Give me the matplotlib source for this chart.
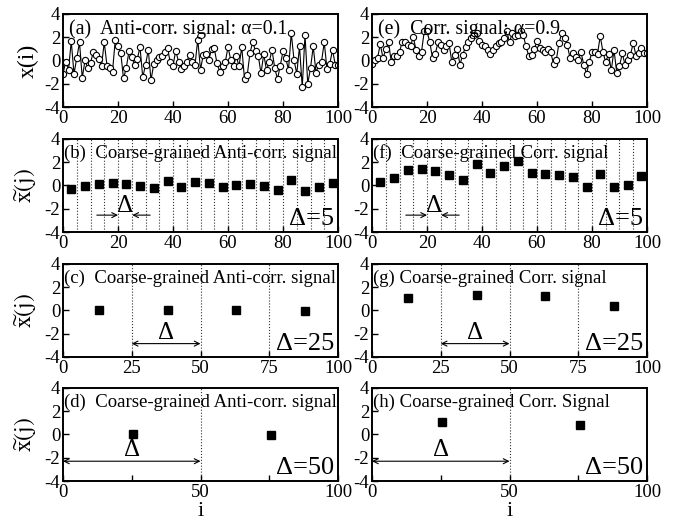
import numpy as np
import matplotlib
matplotlib.use('Agg')
import matplotlib.pyplot as plt

plt.rcParams['font.family'] = ['Liberation Serif', 'DejaVu Serif']
plt.rcParams['mathtext.fontset'] = 'stix'

# raw signals, i = 0..100
i_vals = np.arange(0, 101)
anti_signal = [
    -1.15, -0.1, -0.8, 1.65, -1.15, 0.2, 1.55, -1.5, 0.0, -0.65,
    -0.2, 0.7, 0.5, 0.1, -0.45, 1.55, -0.45, -0.65, -0.95, 1.75,
    1.2, 0.65, -1.55, -0.65, 0.8, 0.3, -0.35, 0.1, 1.15, -1.45,
    -0.4, 0.9, -1.7, -0.3, 0.0, 0.3, 0.4, 0.7, 1.05, -0.15,
    -0.45, 0.85, -0.1, -0.75, -0.45, -0.15, 0.5, -0.1, -0.4, 1.8,
    -0.8, 0.5, 0.55, 0.05, 0.95, 1.05, -0.25, -0.95, -0.5, -0.15,
    1.15, 0.05, -0.5, 0.4, -0.5, 1.15, -1.6, -1.25, 0.65, 1.6,
    0.8, 0.4, -1.1, 0.55, -0.85, -0.1, 0.9, -0.65, -1.6, -0.45,
    0.8, 0.2, -0.8, 2.35, 0.05, -1.15, 1.2, -2.3, 2.2, -2.0,
    -0.65, 1.2, -1.05, -0.35, -0.1, 1.55, -0.75, -0.3, 0.9, -0.35,
    -0.4,
]
corr_signal = [
    -0.3, 0.05, 0.2, 1.4, 0.2, 0.95, 1.55, -0.1, 0.35, 0.4,
    0.75, 1.6, 1.55, 1.35, 1.2, 2.05, 0.9, 0.4, 0.75, 2.5,
    2.5, 1.6, 0.2, 0.55, 1.55, 1.35, 0.9, 1.2, 1.5, -0.1,
    0.5, 0.95, -0.35, 0.5, 1.15, 1.55, 1.9, 2.35, 2.35, 1.65,
    1.35, 1.2, 0.9, 0.55, 0.9, 1.2, 1.5, 1.55, 1.9, 2.55,
    1.55, 2.35, 2.1, 2.2, 2.5, 2.2, 1.2, 0.4, 0.5, 0.95,
    1.7, 1.05, 0.9, 0.7, 0.95, 0.7, -0.3, 0.0, 1.5, 2.35,
    1.9, 1.35, 0.2, 0.6, 0.3, 0.05, 0.7, -0.35, -1.15, -0.15,
    0.75, 0.7, 0.55, 2.1, 0.7, -0.15, 0.55, -0.85, 0.9, -1.05,
    -0.5, 0.6, -0.35, 0.05, 0.5, 1.5, 0.4, 0.6, 1.05, 0.6,
    0.6,
]

# coarse-grained signals (box centres and box means)
j5 = [3, 8, 13, 18, 23, 28, 33, 38, 43, 48, 53, 58, 63, 68, 73, 78, 83, 88, 93, 98]
anti_cg5 = [-0.3, -0.05, 0.15, 0.2, 0.12, -0.05, -0.25, 0.4, -0.15, 0.3,
            0.25, -0.17, 0.08, 0.12, -0.03, -0.35, 0.5, -0.45, -0.17, 0.25]
corr_cg5 = [0.27, 0.6, 1.3, 1.38, 1.27, 0.9, 0.5, 1.87, 1.07, 1.67,
            2.13, 1.07, 1.0, 0.9, 0.7, -0.15, 1.0, -0.15, 0.05, 0.8]
j25 = [13, 38, 63, 88]
anti_cg25 = [0.03, 0.05, 0.05, -0.05]
corr_cg25 = [1.03, 1.3, 1.2, 0.35]
j50 = [25.5, 75.5]
anti_cg50 = [0.0, -0.05]
corr_cg50 = [1.1, 0.8]

fig = plt.figure(figsize=(6.76, 5.23), dpi=100)
lefts = [0.0932, 0.5503]
bottoms = [0.7954, 0.5564, 0.3174, 0.0803]
w, h = 0.4068, 0.178

FS = 13.5


def setup(ax, xticks, minor=None):
    ax.set_xlim(0, 100)
    ax.set_ylim(-4, 4)
    ax.set_yticks([-4, -2, 0, 2, 4])
    ax.set_yticklabels(['-4', '-2', '0', '2', '4'])
    ax.set_xticks(xticks)
    if minor is not None:
        ax.set_xticks(minor, minor=True)
    ax.tick_params(direction='in', length=4, width=1, labelsize=FS, pad=2,
                   top=False, right=False)
    ax.tick_params(which='minor', direction='in', length=4, width=1)
    for s in ax.spines.values():
        s.set_linewidth(1.4)


def vlines(ax, xs):
    for x in xs:
        ax.axvline(x, color='0.2', ls=':', lw=0.8, zorder=1)


def delta_label(ax, txt):
    ax.text(0.985, 0.02, txt, transform=ax.transAxes, ha='right',
            va='bottom', fontsize=19)


def title(ax, txt, x=0.005, size=FS):
    ax.text(x, 0.94, txt, transform=ax.transAxes, ha='left',
            va='top', fontsize=size)


def arrow(ax, x0, x1, y, style):
    ax.annotate('', xy=(x1, y), xytext=(x0, y),
                arrowprops=dict(arrowstyle=style, lw=0.8, color='black',
                                shrinkA=0, shrinkB=0,
                                mutation_scale=9))


sq = dict(ls='none', marker='s', ms=5.5, color='black', zorder=3)
ylab_tilde = r'$\widetilde{\mathrm{x}}(\mathrm{j})$'

columns = [
    ('(a)  Anti-corr. signal: α=0.1', anti_signal,
     ['(b)  Coarse-grained Anti-corr. signal',
      '(c)  Coarse-grained Anti-corr. signal',
      '(d)  Coarse-grained Anti-corr. signal'],
     anti_cg5, anti_cg25, anti_cg50),
    ('(e)  Corr. signal: α=0.9', corr_signal,
     ['(f)  Coarse-grained Corr. signal',
      '(g) Coarse-grained Corr. signal',
      '(h) Coarse-grained Corr. Signal'],
     corr_cg5, corr_cg25, corr_cg50),
]

for c, (t0, sig, titles, cg5, cg25, cg50) in enumerate(columns):
    x0 = lefts[c]
    # raw signal
    ax = fig.add_axes([x0, bottoms[0], w, h])
    ax.plot(i_vals, sig, color='black', lw=0.8, marker='o', ms=4.5,
            mfc='white', mec='black', mew=0.8)
    setup(ax, [0, 20, 40, 60, 80, 100])
    title(ax, t0, x=0.02, size=14.3)
    if c == 0:
        ax.set_ylabel('x(i)', fontsize=17, labelpad=4)

    # box size 5
    ax = fig.add_axes([x0, bottoms[1], w, h])
    vlines(ax, range(5, 100, 5))
    ax.plot(j5, cg5, **sq)
    setup(ax, [0, 20, 40, 60, 80, 100])
    title(ax, titles[0])
    delta_label(ax, 'Δ=5')
    arrow(ax, 12.3, 20.0, -2.55, '->')
    arrow(ax, 31.7, 25.2, -2.55, '->')
    ax.text(22.6, -1.75, 'Δ', ha='center', va='center', fontsize=18)
    if c == 0:
        ax.set_ylabel(ylab_tilde, fontsize=17, labelpad=4)

    # box size 25
    ax = fig.add_axes([x0, bottoms[2], w, h])
    vlines(ax, [25, 50, 75])
    ax.plot(j25, cg25, **sq)
    setup(ax, [0, 25, 50, 75, 100])
    title(ax, titles[1])
    delta_label(ax, 'Δ=25')
    arrow(ax, 25, 50, -2.85, '<->')
    ax.text(37.5, -1.95, 'Δ', ha='center', va='center', fontsize=18)
    if c == 0:
        ax.set_ylabel(ylab_tilde, fontsize=17, labelpad=4)

    # box size 50
    ax = fig.add_axes([x0, bottoms[3], w, h])
    vlines(ax, [50])
    ax.plot(j50, cg50, **sq)
    setup(ax, [0, 50, 100], minor=[25, 75])
    title(ax, titles[2])
    delta_label(ax, 'Δ=50')
    arrow(ax, 0, 50, -2.3, '<->')
    ax.text(25, -1.35, 'Δ', ha='center', va='center', fontsize=18)
    ax.set_xlabel('i', fontsize=16, labelpad=1)
    if c == 0:
        ax.set_ylabel(ylab_tilde, fontsize=17, labelpad=4)

fig.savefig('out.png', dpi=100)
